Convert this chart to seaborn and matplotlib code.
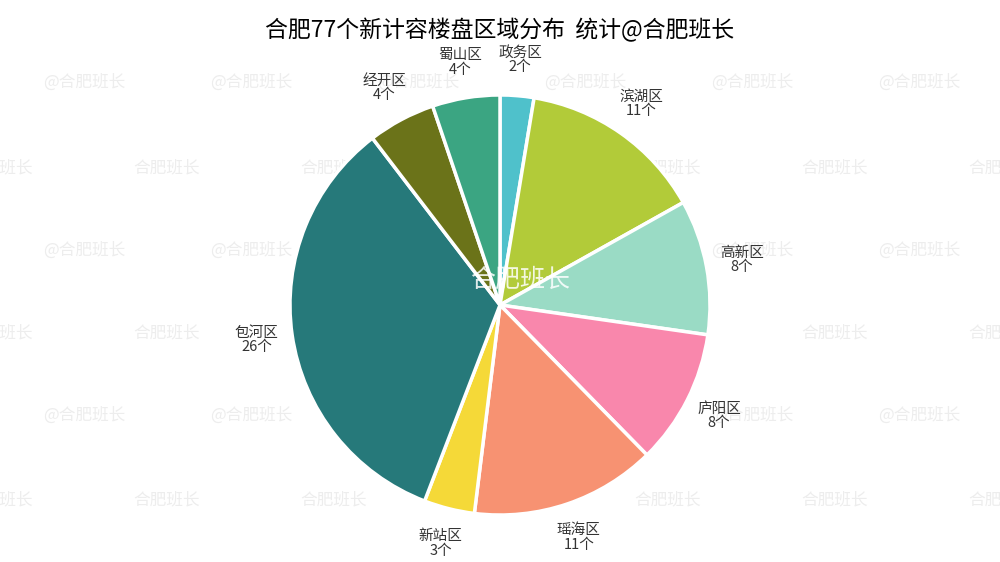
import matplotlib.pyplot as plt
import seaborn as sns

# data
districts = ['政务区', '滨湖区', '高新区', '庐阳区', '瑶海区', '新站区', '包河区', '经开区', '蜀山区']
counts = [2, 11, 8, 8, 11, 3, 26, 4, 4]
colors = ['#4FC1CB', '#B2CB39', '#9ADBC5', '#F987AC', '#F79272',
          '#F5D938', '#26797A', '#6B7319', '#3BA582']

sns.set_theme(style='white')
plt.rcParams['font.family'] = ['Noto Sans CJK SC', 'DejaVu Sans']

fig = plt.figure(figsize=(10, 5.62), dpi=100)
ax = fig.add_axes([0, 0, 1, 1])
ax.set_xlim(0, 1000)
ax.set_ylim(0, 562)
ax.set_aspect('equal')
ax.axis('off')

# faint watermark grid
for row, y in enumerate([480, 394, 312, 229, 147, 62]):
    shift = 84 if row % 2 == 0 else 0
    txt = '@合肥班长' if row % 2 == 0 else '合肥班长'
    for k in range(-1, 7):
        ax.text(shift + k * 167, y, txt, ha='center', va='center',
                fontsize=12, color='#ededed', zorder=0)

labels = [f'{d}\n{c}个' for d, c in zip(districts, counts)]
wedges, texts = ax.pie(counts, labels=labels, colors=colors, startangle=90,
                       counterclock=False, center=(500, 257), radius=210,
                       explode=[0.012] * len(counts), labeldistance=1.17,
                       wedgeprops=dict(edgecolor='white', linewidth=2.5),
                       textprops=dict(fontsize=10.5, color='#333333', linespacing=1.05))
for t in texts:
    t.set_horizontalalignment('center')
    t.set_verticalalignment('center')
ax.set_xlim(0, 1000)
ax.set_ylim(0, 562)

# centre watermark
ax.text(520, 282, '合肥班长', ha='center', va='center', fontsize=18,
        color='white', alpha=0.85, zorder=5)

ax.text(500, 532, '合肥77个新计容楼盘区域分布  统计@合肥班长', ha='center', va='center',
        fontsize=16.5, color='black')

fig.savefig('out.png', dpi=100)
